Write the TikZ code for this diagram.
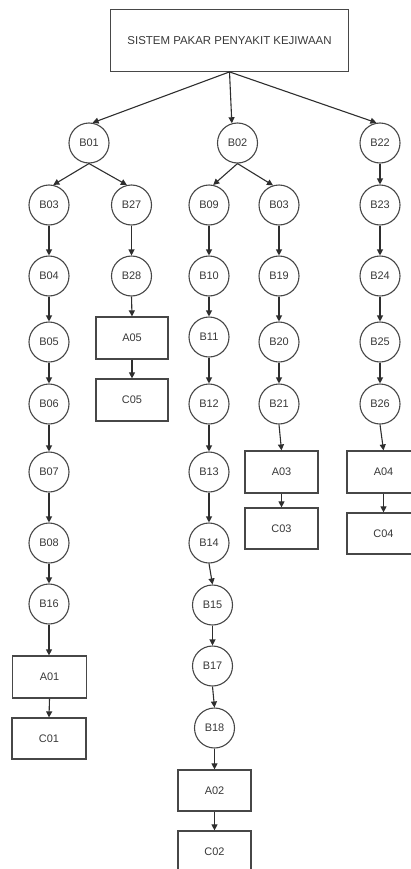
\documentclass[tikz,border=0pt]{standalone}
\usepackage{fontspec}
\setmainfont{Liberation Sans}
\usetikzlibrary{arrows.meta}
\begin{document}
\begin{tikzpicture}[x=1bp,y=-1bp,
  circ/.style={circle,draw=black!72,line width=1.1bp,minimum size=40bp,inner sep=0pt,
    font=\fontsize{11}{13}\selectfont,text=black!78},
  rbox/.style={rectangle,draw=black!72,line width=1.2bp,minimum width=73bp,minimum height=41bp,
    inner sep=0pt,font=\fontsize{11}{13}\selectfont,text=black!78},
  arr/.style={-{Triangle[width=6bp,length=6bp]},draw=black!82,line width=1.1bp}]
\useasboundingbox (0,0) rectangle (410,869);
% root
\node[rbox,minimum width=237.6bp,minimum height=62bp,font=\fontsize{11.5}{14}\selectfont] (root) at (229.5,40.3) {SISTEM PAKAR PENYAKIT KEJIWAAN};
% level 1
\node[circ] (B01) at (89,143) {B01};
\node[circ] (B02) at (237.5,143) {B02};
\node[circ] (B22) at (380,143) {B22};
% column 1
\node[circ] (B03) at (49,205) {B03};
\node[circ] (B04) at (49,276) {B04};
\node[circ] (B05) at (49,342) {B05};
\node[circ] (B06) at (49,404) {B06};
\node[circ] (B07) at (49,472) {B07};
\node[circ] (B08) at (49,543) {B08};
\node[circ] (B16) at (49,604) {B16};
\node[rbox,minimum width=74bp,minimum height=42bp] (A01) at (49.5,677) {A01};
\node[rbox,minimum width=74bp] (C01) at (49,738.5) {C01};
% column 2
\node[circ] (B27) at (131.5,205) {B27};
\node[circ] (B28) at (131.5,276) {B28};
\node[rbox,minimum width=72bp,minimum height=42bp] (A05) at (132,338) {A05};
\node[rbox,minimum width=72bp,minimum height=42bp] (C05) at (132,400) {C05};
% column 3
\node[circ] (B09) at (209,205) {B09};
\node[circ] (B10) at (209,276) {B10};
\node[circ] (B11) at (209,337) {B11};
\node[circ] (B12) at (209,404) {B12};
\node[circ] (B13) at (209,472) {B13};
\node[circ] (B14) at (209,543) {B14};
\node[circ] (B15) at (212.5,605) {B15};
\node[circ] (B17) at (212.5,666) {B17};
\node[circ] (B18) at (214.5,728) {B18};
\node[rbox] (A02) at (214.5,790.5) {A02};
\node[rbox] (C02) at (214.5,851.5) {C02};
% column 4
\node[circ] (B03b) at (279,205) {B03};
\node[circ] (B19) at (279,276) {B19};
\node[circ] (B20) at (279,342) {B20};
\node[circ] (B21) at (279,404) {B21};
\node[rbox,minimum height=42bp] (A03) at (281.5,472) {A03};
\node[rbox] (C03) at (281.5,528.5) {C03};
% column 5
\node[circ] (B23) at (380,205) {B23};
\node[circ] (B24) at (380,276) {B24};
\node[circ] (B25) at (380,342) {B25};
\node[circ] (B26) at (380,404) {B26};
\node[rbox,minimum height=42bp] (A04) at (383.5,472) {A04};
\node[rbox] (C04) at (383.5,533.5) {C04};
% connectors
\draw[arr] (root.south) -- (B01.80);
\draw[arr] (root.south) -- (B02.106);
\draw[arr] (root.south) -- (B22.100);
\draw[arr] (B01.south) -- (B03.78);
\draw[arr] (B01.south) -- (B27.103);
\draw[arr] (B02.south) -- (B09.78);
\draw[arr] (B02.south) -- (B03b.107);
\draw[arr] (B22) -- (B23);
\draw[arr] (B03) -- (B04);
\draw[arr] (B04) -- (B05);
\draw[arr] (B05) -- (B06);
\draw[arr] (B06) -- (B07);
\draw[arr] (B07) -- (B08);
\draw[arr] (B08) -- (B16);
\draw[arr] (B16.south) -- (B16.south |- A01.north);
\draw[arr] (A01.south) -- (C01.north);
\draw[arr] (B27) -- (B28);
\draw[arr] (B28.south) -- (A05.north);
\draw[arr] (A05) -- (C05);
\draw[arr] (B09) -- (B10);
\draw[arr] (B10) -- (B11);
\draw[arr] (B11) -- (B12);
\draw[arr] (B12) -- (B13);
\draw[arr] (B13) -- (B14);
\draw[arr] (B14.south) -- (B15.north);
\draw[arr] (B15) -- (B17);
\draw[arr] (B17.south) -- (B18.north);
\draw[arr] (B18) -- (A02);
\draw[arr] (A02) -- (C02);
\draw[arr] (B03b) -- (B19);
\draw[arr] (B19) -- (B20);
\draw[arr] (B20) -- (B21);
\draw[arr] (B21.south) -- (A03.north);
\draw[arr] (A03) -- (C03);
\draw[arr] (B23) -- (B24);
\draw[arr] (B24) -- (B25);
\draw[arr] (B25) -- (B26);
\draw[arr] (B26.south) -- (A04.north);
\draw[arr] (A04) -- (C04);
\end{tikzpicture}
\end{document}
